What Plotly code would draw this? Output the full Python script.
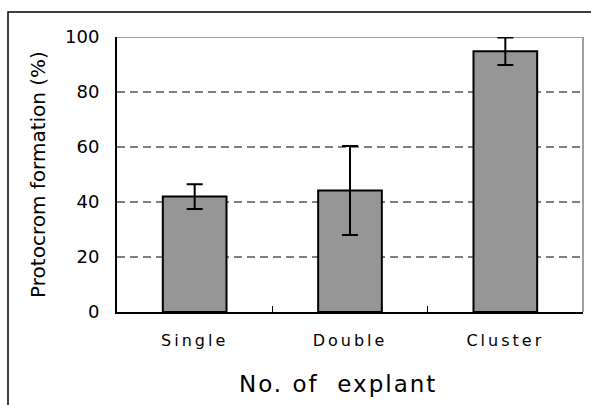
import plotly.graph_objects as go

categories = ["Single", "Double", "Cluster"]
values = [42.0, 44.2, 94.8]
errors = [4.5, 16.2, 5.0]
y_ticks = [0, 20, 40, 60, 80, 100]

W, H = 591, 405
L, R, T, B = 117, 8, 37, 93
pw, ph = W - L - R, H - T - B

def px_x(x):
    return (x - L) / pw

def px_y(y):
    return (H - B - y) / ph

fig = go.Figure()
fig.add_trace(go.Bar(
    x=categories, y=values,
    marker=dict(color="#969696", line=dict(color="black", width=2)),
    error_y=dict(type="data", array=errors, visible=True, color="black", thickness=2, width=8),
    width=0.41,
))

shapes = []
for v in y_ticks[1:-1]:
    shapes.append(dict(type="line", xref="paper", yref="y", x0=0, x1=1, y0=v, y1=v,
                       line=dict(color="black", width=1.2, dash="8px,5px"), layer="below"))
# top and right gray borders
shapes.append(dict(type="line", xref="paper", yref="y", x0=0, x1=1, y0=100, y1=100,
                   line=dict(color="#a0a0a0", width=2), layer="below"))
shapes.append(dict(type="line", xref="paper", yref="y", x0=1, x1=1, y0=0, y1=100,
                   line=dict(color="#a0a0a0", width=2), layer="below"))
# outer frame
shapes.append(dict(type="rect", xref="paper", yref="paper",
                   x0=px_x(8), x1=px_x(W + 5), y0=px_y(H + 5), y1=px_y(12),
                   line=dict(color="black", width=1.5), fillcolor="rgba(0,0,0,0)"))

ticktext = ["<span style='letter-spacing:3px'>%s</span>" % c for c in categories]

fig.add_annotation(
    text="<span style='letter-spacing:2px'>No. of  explant</span>",
    xref="paper", yref="paper", x=px_x(338), y=px_y(384),
    xanchor="center", yanchor="middle", showarrow=False,
    font=dict(size=23, color="black"),
)

fig.update_layout(
    width=W, height=H,
    margin=dict(l=L, r=R, t=T, b=B),
    plot_bgcolor="white", paper_bgcolor="white",
    showlegend=False,
    shapes=shapes,
    font=dict(family="DejaVu Sans", color="black"),
    xaxis=dict(
        showline=True, linecolor="black", linewidth=2,
        ticks="inside", ticklen=6, tickwidth=1, tickcolor="black",
        tickson="boundaries",
        tickvals=categories, ticktext=ticktext,
        tickfont=dict(size=16),
        ticklabelstandoff=13,
        showgrid=False,
    ),
    yaxis=dict(
        range=[0, 100],
        tickvals=y_ticks,
        showline=True, linecolor="black", linewidth=2,
        ticks="", showgrid=False, zeroline=False,
        tickfont=dict(size=18),
        ticklabelstandoff=12,
        title=dict(text="Protocrom formation (%)", font=dict(size=20), standoff=14),
    ),
)

fig.write_html("out.html", config={"displayModeBar": False},
               post_script="document.body.style.margin='0px';")
